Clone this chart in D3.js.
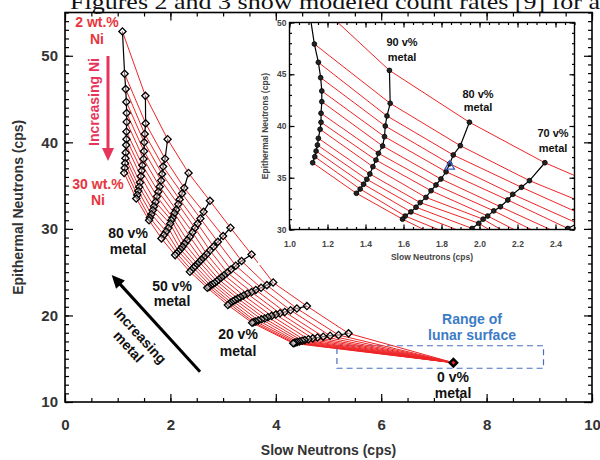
<!DOCTYPE html>
<html><head><meta charset="utf-8">
<script src="https://cdn.jsdelivr.net/npm/d3@7"></script>
<style>
body{margin:0;background:#fff}
svg{display:block}
text{font-family:"Liberation Sans",Arial,Helvetica,sans-serif}
</style>
</head><body>
<svg id="c" width="600" height="460"></svg>
<script>
// ---------------- data ----------------
const metalPct = [100, 90, 80, 70, 60, 50, 40, 30, 20, 10];
const niLabels = ["2 wt.%", "30 wt.%"];
// slow neutron count rate, one row per metal fraction, one entry per Ni level (2 -> 30 wt.%)
const slowByMetal = [
  [1.09, 1.131, 1.152, 1.164, 1.17, 1.17, 1.166, 1.166, 1.161, 1.152, 1.147, 1.14, 1.133, 1.122],
  [1.526, 1.53, 1.513, 1.504, 1.5, 1.49, 1.468, 1.455, 1.439, 1.423, 1.407, 1.39, 1.372, 1.352],
  [1.947, 1.899, 1.862, 1.843, 1.824, 1.797, 1.771, 1.745, 1.718, 1.688, 1.666, 1.639, 1.609, 1.595],
  [2.344, 2.263, 2.221, 2.175, 2.149, 2.11, 2.075, 2.043, 2.019, 1.996, 1.961, 1.92, 1.875, 1.83],
  [2.75, 2.63, 2.57, 2.515, 2.465, 2.42, 2.37, 2.32, 2.27, 2.23, 2.19, 2.155, 2.12, 2.09],
  [3.14, 3.0, 2.9, 2.82, 2.75, 2.69, 2.64, 2.59, 2.55, 2.51, 2.47, 2.44, 2.40, 2.37],
  [3.54, 3.35, 3.24, 3.15, 3.08, 3.02, 2.97, 2.92, 2.88, 2.84, 2.8, 2.76, 2.73, 2.70],
  [3.95, 3.83, 3.72, 3.62, 3.54, 3.46, 3.39, 3.33, 3.28, 3.23, 3.19, 3.15, 3.12, 3.09],
  [4.59, 4.40, 4.28, 4.17, 4.08, 4.0, 3.92, 3.85, 3.79, 3.73, 3.67, 3.62, 3.58, 3.55],
  [5.38, 5.19, 5.03, 4.9, 4.79, 4.7, 4.62, 4.55, 4.5, 4.45, 4.41, 4.38, 4.35, 4.33]
];
// epithermal neutron count rate, same layout
const epiByMetal = [
  [52.8, 47.92, 46.15, 44.67, 43.38, 42.35, 41.23, 40.36, 39.68, 38.81, 38.16, 37.58, 37.03, 36.45],
  [45.37, 42.19, 40.97, 40.0, 38.97, 38.07, 37.36, 36.71, 36.07, 35.36, 34.85, 34.37, 33.91, 33.5],
  [40.36, 38.1, 37.2, 36.35, 35.58, 34.88, 34.3, 33.75, 33.1, 32.6, 32.15, 31.7, 31.3, 31.0],
  [36.45, 34.72, 34.08, 33.4, 32.85, 32.2, 31.8, 31.3, 31.0, 30.6, 30.1, 29.7, 29.3, 28.9],
  [33.24, 31.97, 31.2, 30.6, 30.1, 29.6, 29.1, 28.7, 28.3, 27.95, 27.65, 27.4, 27.18, 26.97],
  [30.13, 29.17, 28.5, 27.95, 27.5, 27.1, 26.75, 26.45, 26.2, 25.95, 25.7, 25.5, 25.25, 25.05],
  [27.05, 26.3, 25.75, 25.3, 24.95, 24.65, 24.4, 24.15, 23.95, 23.75, 23.6, 23.45, 23.3, 23.2],
  [23.8, 23.5, 23.2, 22.95, 22.7, 22.5, 22.3, 22.1, 21.95, 21.8, 21.65, 21.5, 21.35, 21.2],
  [21.08, 20.8, 20.6, 20.4, 20.25, 20.1, 19.95, 19.8, 19.65, 19.55, 19.42, 19.3, 19.22, 19.16],
  [17.93, 17.74, 17.66, 17.55, 17.45, 17.35, 17.25, 17.15, 17.07, 17.0, 16.93, 16.87, 16.82, 16.78]
];
const zeroMetal = [7.37, 14.54];            // 0 v% metal (slow, epithermal)
const lunarRangeSlow = [5.16, 9.08];
const lunarRangeEpi = [13.9, 16.5];
const triangleSample = [1.843, 36.1];
const mainXTicks = [0, 2, 4, 6, 8, 10];
const mainYTicks = [10, 20, 30, 40, 50];
const insetXTicks = [1.0, 1.2, 1.4, 1.6, 1.8, 2.0, 2.2, 2.4];
const insetYTicks = [30, 35, 40, 45, 50];

// ---------------- setup ----------------
const svg = d3.select("#c");
const nNi = slowByMetal[0].length;
const niLines = d3.range(nNi).map(i =>
  metalPct.map((m, k) => [slowByMetal[k][i], epiByMetal[k][i]]).concat([zeroMetal]));
const columns = metalPct.map((m, k) => slowByMetal[k].map((s, i) => [s, epiByMetal[k][i]]));
const RED = "#ee2526";

// top cropped body text
svg.append("text").attr("x", 70).attr("y", 9)
  .attr("textLength", 530).attr("lengthAdjust", "spacingAndGlyphs")
  .style("font-family", "'Liberation Serif','Times New Roman',serif")
  .style("font-size", "22px").attr("fill", "#111")
  .text("Figures 2 and 3 show modeled count rates [9] for a");

// ---------------- main plot ----------------
const M = {l: 65, r: 592, t: 12.5, b: 402};
const x = d3.scaleLinear().domain([0, 10]).range([M.l, M.r]);
const y = d3.scaleLinear().domain([10, 55]).range([M.b, M.t]);

function styleAxis(g) {
  g.select(".domain").remove();
  g.selectAll(".tick line").attr("stroke", "#000").attr("stroke-width", 1.2);
}
const tickFont = g => g.selectAll("text").style("font-size", "15px").style("font-weight", "bold").attr("fill", "#333");

svg.append("g").attr("transform", `translate(0,${M.b})`)
  .call(d3.axisBottom(x).tickValues(d3.range(0, 10.01, 0.5)).tickSize(-4).tickFormat(""))
  .call(styleAxis);
svg.append("g").attr("transform", `translate(0,${M.b})`)
  .call(d3.axisBottom(x).tickValues(mainXTicks).tickSize(-8).tickPadding(17).tickFormat(d3.format("d")))
  .call(styleAxis).call(tickFont);
svg.append("g").attr("transform", `translate(0,${M.t})`)
  .call(d3.axisTop(x).tickValues(d3.range(0, 10.01, 0.5)).tickSize(-4).tickFormat(""))
  .call(styleAxis);
svg.append("g").attr("transform", `translate(0,${M.t})`)
  .call(d3.axisTop(x).tickValues(mainXTicks).tickSize(-8).tickFormat(""))
  .call(styleAxis);
svg.append("g").attr("transform", `translate(${M.l},0)`)
  .call(d3.axisLeft(y).tickValues(d3.range(10, 55.01, 1)).tickSize(-4).tickFormat(""))
  .call(styleAxis);
svg.append("g").attr("transform", `translate(${M.l},0)`)
  .call(d3.axisLeft(y).tickValues(mainYTicks).tickSize(-8).tickPadding(7).tickFormat(d3.format("d")))
  .call(styleAxis).call(tickFont);
svg.append("g").attr("transform", `translate(${M.r},0)`)
  .call(d3.axisRight(y).tickValues(d3.range(10, 55.01, 1)).tickSize(-4).tickFormat(""))
  .call(styleAxis);
svg.append("g").attr("transform", `translate(${M.r},0)`)
  .call(d3.axisRight(y).tickValues(mainYTicks).tickSize(-8).tickFormat(""))
  .call(styleAxis);
svg.append("rect").attr("x", M.l).attr("y", M.t).attr("width", M.r - M.l).attr("height", M.b - M.t)
  .attr("fill", "none").attr("stroke", "#000").attr("stroke-width", 1.6);

svg.append("text").attr("x", (M.l + M.r) / 2).attr("y", 455).attr("text-anchor", "middle")
  .style("font-size", "14px").style("font-weight", "bold").attr("fill", "#333").text("Slow Neutrons (cps)");
svg.append("text").attr("transform", `translate(23,${(M.t + M.b) / 2}) rotate(-90)`).attr("text-anchor", "middle")
  .style("font-size", "14px").style("font-weight", "bold").attr("fill", "#333").text("Epithermal Neutrons (cps)");

// lunar surface range box
svg.append("rect").attr("x", x(lunarRangeSlow[0])).attr("y", y(lunarRangeEpi[1]))
  .attr("width", x(lunarRangeSlow[1]) - x(lunarRangeSlow[0])).attr("height", y(lunarRangeEpi[0]) - y(lunarRangeEpi[1]))
  .attr("fill", "none").attr("stroke", "#4a6fc0").attr("stroke-width", 1.2).attr("stroke-dasharray", "6,4");

const lineMain = d3.line().x(d => x(d[0])).y(d => y(d[1]));
const gm = svg.append("g");
gm.selectAll(".ni").data(niLines).join("path").attr("d", lineMain)
  .attr("fill", "none").attr("stroke", RED).attr("stroke-width", 1);
gm.selectAll(".col").data(columns).join("path").attr("d", lineMain)
  .attr("fill", "none").attr("stroke", "#000").attr("stroke-width", 1.2);
const diamond = d3.symbol().type(d3.symbolSquare).size(26);
gm.selectAll(".pt").data(columns.flat()).join("path")
  .attr("d", diamond).attr("transform", d => `translate(${x(d[0])},${y(d[1])}) rotate(45)`)
  .attr("fill", "#fff").attr("fill-opacity", 0.45).attr("stroke", "#000").attr("stroke-width", 1.3);
gm.append("path").attr("d", d3.symbol().type(d3.symbolSquare).size(28))
  .attr("transform", `translate(${x(zeroMetal[0])},${y(zeroMetal[1])}) rotate(45)`)
  .attr("fill", RED).attr("stroke", "#000").attr("stroke-width", 2.4);

// annotations (main)
function label(lines, cx, cy, size, color, lh) {
  const t = svg.append("text").attr("text-anchor", "middle").style("font-size", size + "px")
    .style("font-weight", "bold").attr("fill", color);
  lines.forEach((s, i) => t.append("tspan").attr("x", cx).attr("y", cy + i * lh + size * 0.35).text(s));
}
const LRED = "#e8353d";
label([niLabels[0], "Ni"], 97, 22, 14, LRED, 17);
label([niLabels[1], "Ni"], 98, 184, 14, LRED, 16.5);
label(["80 v%", "metal"], 128, 233, 14, "#111", 16.5);
label(["50 v%", "metal"], 172, 286, 14, "#111", 15.5);
label(["20 v%", "metal"], 238, 334, 14, "#111", 17);
label(["0 v%", "metal"], 453, 377, 14, "#111", 16);
label(["Range of", "lunar surface"], 472, 319, 14, "#3c7cc6", 16);

svg.append("text").attr("transform", "translate(94,102) rotate(-90)").attr("text-anchor", "middle")
  .attr("dy", "0.35em").style("font-size", "14px").style("font-weight", "bold").attr("fill", "#e6345a").text("Increasing Ni");
// red arrow
svg.append("line").attr("x1", 108).attr("y1", 56).attr("x2", 108).attr("y2", 150)
  .attr("stroke", "#e6345a").attr("stroke-width", 3);
svg.append("path").attr("d", "M102,148 L114,148 L108,161 Z").attr("fill", "#e6345a");
// black arrow
const ag = svg.append("g").attr("transform", "translate(111.7,275) rotate(47.6)");
ag.append("line").attr("x1", 10).attr("y1", 0).attr("x2", 131).attr("y2", 0).attr("stroke", "#000").attr("stroke-width", 3);
ag.append("path").attr("d", "M0,0 L13,-6 L13,6 Z").attr("fill", "#000");
const tg = svg.append("g").attr("transform", "translate(140.3,335.7) rotate(47.5)");
tg.append("text").attr("text-anchor", "middle").attr("dy", "0.35em").style("font-size", "14px")
  .style("font-weight", "bold").attr("fill", "#111").text("Increasing");
tg.append("text").attr("y", 16).attr("text-anchor", "middle").attr("dy", "0.35em").style("font-size", "14px")
  .style("font-weight", "bold").attr("fill", "#111").text("metal");

// ---------------- inset ----------------
const I = {l: 289.5, r: 574.5, t: 22.5, b: 229.5};
svg.append("rect").attr("x", 258).attr("y", 21).attr("width", 326).attr("height", 244).attr("fill", "#fff");
const xi = d3.scaleLinear().domain([1.0, 2.5]).range([I.l, I.r]);
const yi = d3.scaleLinear().domain([30, 50]).range([I.b, I.t]);
svg.append("clipPath").attr("id", "ic").append("rect")
  .attr("x", I.l).attr("y", I.t).attr("width", I.r - I.l).attr("height", I.b - I.t);
const gi = svg.append("g").attr("clip-path", "url(#ic)");
const lineIn = d3.line().x(d => xi(d[0])).y(d => yi(d[1]));
gi.selectAll(".ni").data(niLines).join("path").attr("d", lineIn)
  .attr("fill", "none").attr("stroke", RED).attr("stroke-width", 1);
gi.selectAll(".col").data(columns).join("path").attr("d", lineIn)
  .attr("fill", "none").attr("stroke", "#000").attr("stroke-width", 1.2);
gi.selectAll(".pt").data(columns.flat()).join("circle")
  .attr("cx", d => xi(d[0])).attr("cy", d => yi(d[1])).attr("r", 2.4)
  .attr("fill", "#222").attr("stroke", "#000").attr("stroke-width", 0.8);
gi.append("path").attr("d", d3.symbol().type(d3.symbolTriangle).size(40))
  .attr("transform", `translate(${xi(triangleSample[0])},${yi(triangleSample[1])})`)
  .attr("fill", "none").attr("stroke", "#3a5fc2").attr("stroke-width", 1.3);

const smallFont = g => g.selectAll("text").style("font-size", "8.5px").style("font-weight", "bold").attr("fill", "#444");
svg.append("g").attr("transform", `translate(0,${I.b})`)
  .call(d3.axisBottom(xi).tickValues(d3.range(1.0, 2.501, 0.05)).tickSize(-2.5).tickFormat(""))
  .call(styleAxis);
svg.append("g").attr("transform", `translate(0,${I.b})`)
  .call(d3.axisBottom(xi).tickValues(insetXTicks).tickSize(-5).tickPadding(11).tickFormat(d3.format(".1f")))
  .call(styleAxis).call(smallFont);
svg.append("g").attr("transform", `translate(0,${I.t})`)
  .call(d3.axisTop(xi).tickValues(d3.range(1.0, 2.501, 0.05)).tickSize(-2.5).tickFormat(""))
  .call(styleAxis);
svg.append("g").attr("transform", `translate(0,${I.t})`)
  .call(d3.axisTop(xi).tickValues(insetXTicks).tickSize(-5).tickFormat(""))
  .call(styleAxis);
svg.append("g").attr("transform", `translate(${I.l},0)`)
  .call(d3.axisLeft(yi).tickValues(d3.range(30, 50.01, 1)).tickSize(-2.5).tickFormat(""))
  .call(styleAxis);
svg.append("g").attr("transform", `translate(${I.l},0)`)
  .call(d3.axisLeft(yi).tickValues(insetYTicks).tickSize(-5).tickPadding(3).tickFormat(d3.format("d")))
  .call(styleAxis).call(smallFont);
svg.append("g").attr("transform", `translate(${I.r},0)`)
  .call(d3.axisRight(yi).tickValues(d3.range(30, 50.01, 1)).tickSize(-2.5).tickFormat(""))
  .call(styleAxis);
svg.append("g").attr("transform", `translate(${I.r},0)`)
  .call(d3.axisRight(yi).tickValues(insetYTicks).tickSize(-5).tickFormat(""))
  .call(styleAxis);
svg.append("rect").attr("x", I.l).attr("y", I.t).attr("width", I.r - I.l).attr("height", I.b - I.t)
  .attr("fill", "none").attr("stroke", "#000").attr("stroke-width", 1.4);
svg.append("text").attr("x", (I.l + I.r) / 2).attr("y", 260).attr("text-anchor", "middle")
  .style("font-size", "8.5px").style("font-weight", "bold").attr("fill", "#444").text("Slow Neutrons (cps)");
svg.append("text").attr("transform", `translate(268,${(I.t + I.b) / 2}) rotate(-90)`).attr("text-anchor", "middle")
  .style("font-size", "8.5px").style("font-weight", "bold").attr("fill", "#444").text("Epithermal Neutrons (cps)");
label(["90 v%", "metal"], 402, 42, 11, "#111", 15);
label(["80 v%", "metal"], 478, 94, 11, "#111", 13.5);
label(["70 v%", "metal"], 553, 133, 11, "#111", 15);
</script>
</body></html>
